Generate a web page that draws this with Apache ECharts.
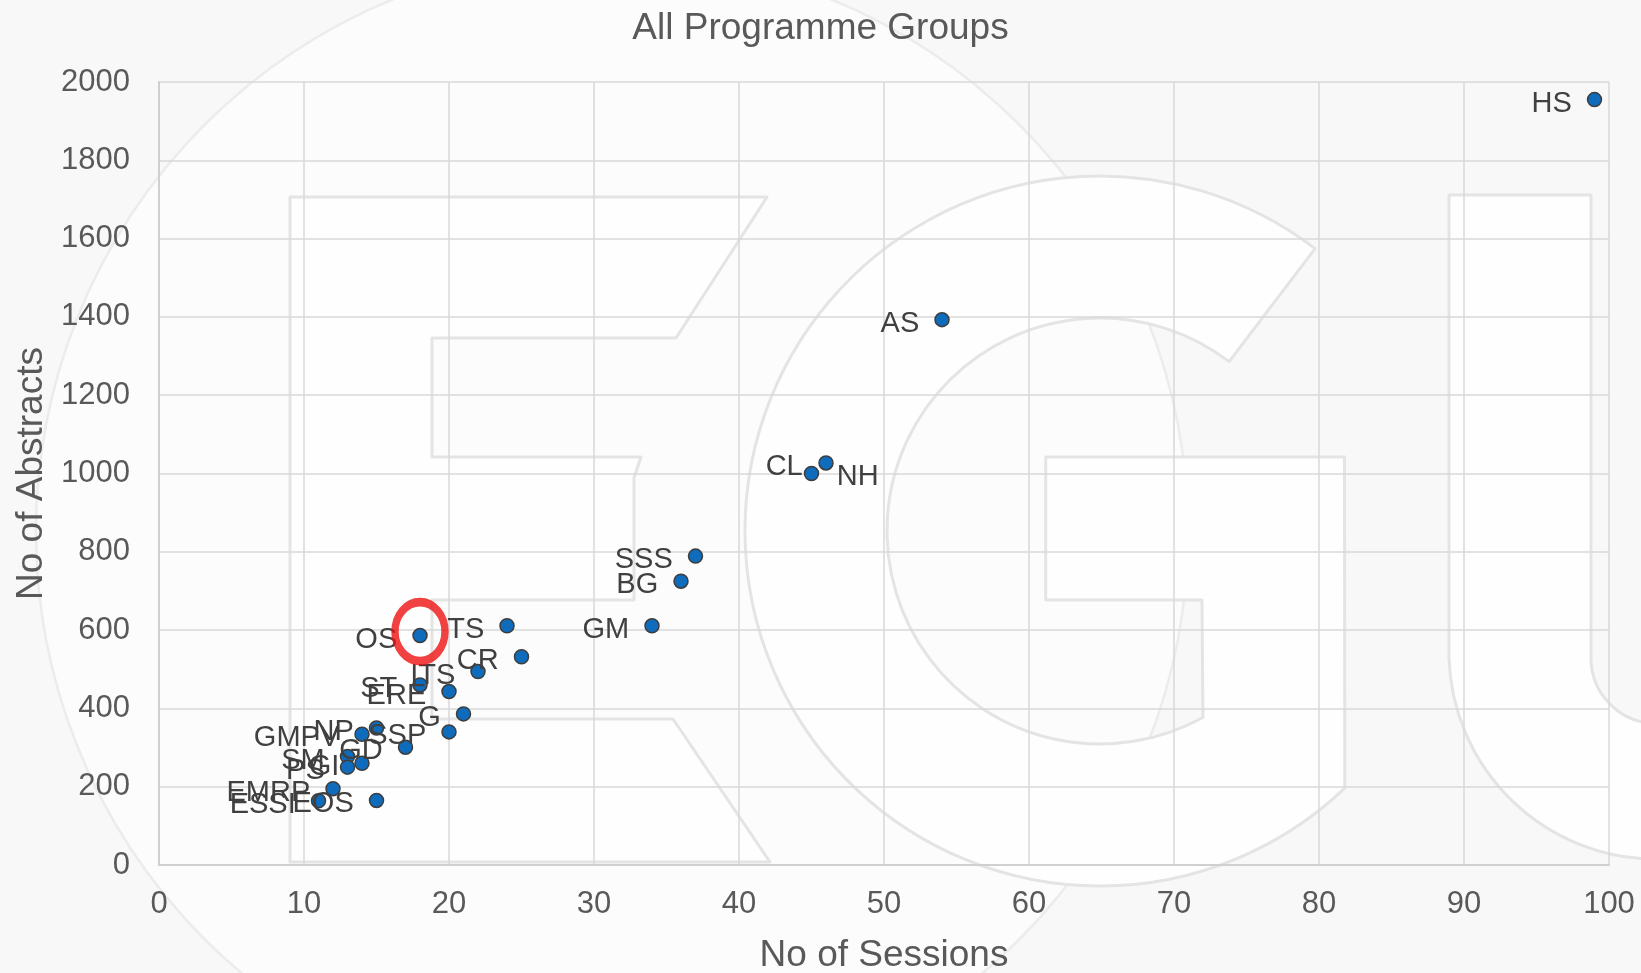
<!DOCTYPE html>
<html>
<head>
<meta charset="utf-8">
<script src="https://cdn.jsdelivr.net/npm/echarts@6/dist/echarts.min.js"></script>
<style>
html,body{margin:0;padding:0;background:#fff;}
#chart{width:1641px;height:973px;}
</style>
</head>
<body>
<div id="chart"></div>
<script>
// ---- data ----
const groups = ['HS','AS','CL','NH','SSS','BG','GM','TS','OS','CR','ITS','ST','ERE','G','SSP','NP','GMPV','GD','SM','PS','GI','EMRP','ESSI','EOS'];
const sessions = [99,54,45,46,37,36,34,24,18,25,22,18,20,21,20,15,14,17,13,13,14,12,11,15];
const abstracts = [1955,1393,1000,1027,789,725,611,611,586,532,494,460,443,386,340,350,334,301,277,250,260,195,164,165];
const highlighted = 'OS';
const xTicks = {min:0, max:100, step:10};
const yTicks = {min:0, max:2000, step:200};

// ---- label placement tweaks (style, not data) ----
const labelSide = {NH:'right'};
const labelDist = {CL:1, NH:3};
const labelDy = {CL:-7, NH:14};
const defaultDy = 4;

const FONT = '"Liberation Sans", Arial, Helvetica, sans-serif';

const points = groups.map((g,i)=>{
  const item = {name:g, value:[sessions[i], abstracts[i]]};
  if (labelSide[g] || labelDist[g] !== undefined) {
    item.label = {position: labelSide[g] || 'left', distance: labelDist[g] !== undefined ? labelDist[g] : 15};
  }
  return item;
});
const hi = groups.indexOf(highlighted);

// ---- faint background watermark (decoration only) ----
const wmSvg =
  '<svg xmlns="http://www.w3.org/2000/svg" width="1641" height="973" viewBox="0 0 1641 973">' +
  '<rect width="1641" height="973" fill="#f8f8f8"/>' +
  '<circle cx="612" cy="532" r="576" fill="#fcfcfc" stroke="#ececec" stroke-width="2.5"/>' +
  '<g fill="#fefefe" stroke="#e4e4e4" stroke-width="3" stroke-linejoin="round">' +
  '<path d="M 290 197 L 767 197 L 676 338 L 432 338 L 432 457 L 641 457 L 634 478 L 634 600 L 432 600 L 432 719 L 673 719 L 770 862 L 290 862 Z"/>' +
  '<path d="M 1344.8 788.1 A 355 355 0 1 1 1315.1 248.6 L 1229.1 361.6 A 213 213 0 1 0 1202.9 717.5 L 1202 600 L 1045.7 600 L 1045.7 457 L 1344.5 457 Z"/>' +
  '<path d="M 1449 195 L 1591 195 L 1591 658 A 65.6 65.6 0 0 0 1722.2 658 L 1722.2 195 L 1864 195 L 1864 658 A 207.6 207.6 0 0 1 1449 658 Z"/>' +
  '</g></svg>';
const wmUrl = 'data:image/svg+xml;charset=utf-8,' + encodeURIComponent(wmSvg);

const chart = echarts.init(document.getElementById('chart'));
chart.setOption({
  backgroundColor:'#f8f8f8',
  animation:false,
  graphic:{elements:[
    {type:'image', left:0, top:0, z:-10, silent:true, style:{image:wmUrl, width:1641, height:973}}
  ]},
  title:{
    text:'All Programme Groups',
    left:'center', top:5,
    textStyle:{fontFamily:FONT, fontSize:37, fontWeight:'normal', color:'#595959'}
  },
  grid:{left:159, right:32, top:82, bottom:108, containLabel:false, outerBoundsMode:'none'},
  xAxis:{
    type:'value', min:xTicks.min, max:xTicks.max, interval:xTicks.step,
    name:'No of Sessions', nameLocation:'middle', nameGap:72,
    nameTextStyle:{fontFamily:FONT, fontSize:37, color:'#595959'},
    axisLine:{show:true, lineStyle:{color:'#d0d0d0', width:2}},
    axisTick:{show:false},
    axisLabel:{fontFamily:FONT, fontSize:31, color:'#595959', margin:24, formatter:v=>String(v)},
    splitLine:{show:true, lineStyle:{color:'#d9d9d9', width:1.5}}
  },
  yAxis:{
    type:'value', min:yTicks.min, max:yTicks.max, interval:yTicks.step,
    name:'No of Abstracts', nameLocation:'middle', nameGap:105,
    nameTextStyle:{fontFamily:FONT, fontSize:37, color:'#595959'},
    axisLine:{show:true, lineStyle:{color:'#d0d0d0', width:2}},
    axisTick:{show:false},
    axisLabel:{fontFamily:FONT, fontSize:31, color:'#595959', margin:29, formatter:v=>String(v)},
    splitLine:{show:true, lineStyle:{color:'#d9d9d9', width:1.5}}
  },
  series:[
    {
      type:'scatter',
      data:points,
      symbol:'circle',
      symbolSize:14,
      itemStyle:{color:'#0f6cbd', borderColor:'#3d3d3d', borderWidth:1.5, opacity:1},
      label:{
        show:true, position:'left', distance:15,
        formatter:p=>p.name,
        fontFamily:FONT, fontSize:29, color:'#404040'
      },
      labelLayout:function(params){
        const g = groups[params.dataIndex];
        return {hideOverlap:false, dy: (labelDy[g] !== undefined ? labelDy[g] : defaultDy)};
      },
      emphasis:{disabled:true},
      z:3
    },
    {
      type:'scatter',
      data:[{name:groups[hi], value:[sessions[hi], abstracts[hi]]}],
      symbol:'circle',
      symbolSize:[50,59],
      symbolOffset:[0,-4],
      itemStyle:{color:'rgba(0,0,0,0)', borderColor:'#ee1111', borderWidth:8},
      label:{show:false},
      emphasis:{disabled:true},
      silent:true,
      z:4
    }
  ]
});
</script>
</body>
</html>
